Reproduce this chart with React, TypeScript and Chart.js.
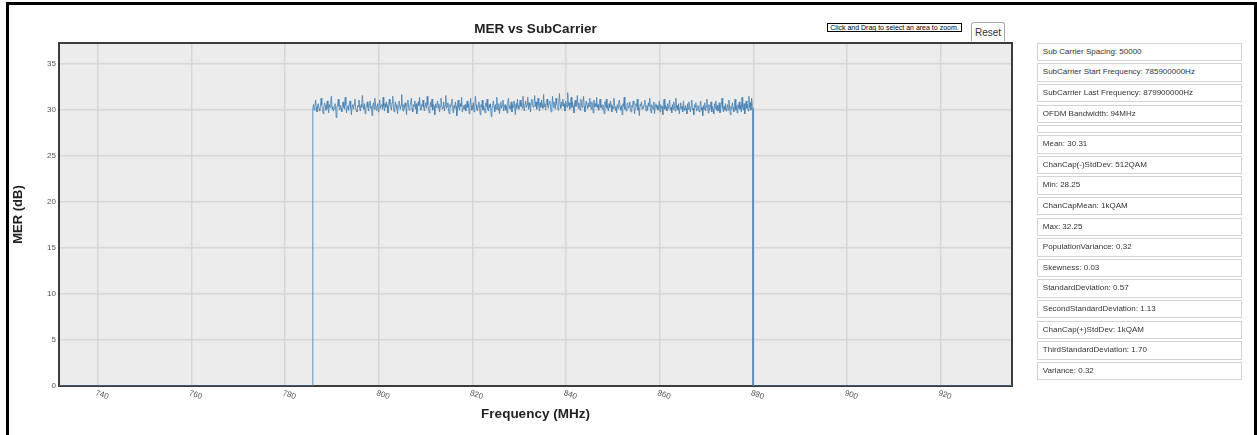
import React, { useEffect, useRef } from 'react';
import { Chart, registerables } from 'chart.js';

Chart.register(...registerables);

const FONT = '"Liberation Sans", Arial, Helvetica, sans-serif';

const chartTitle = 'MER vs SubCarrier';
const xAxisTitle = 'Frequency (MHz)';
const yAxisTitle = 'MER (dB)';

const xAxisMin = 731.7;
const xAxisMax = 935.2;
const xTickStep = 20;
const yAxisMin = 0;
const yAxisMax = 37.3;
const yTickStep = 5;

const startFreqMHz = 785.9;
const lastFreqMHz = 879.9;

// MER values (dB) read across the occupied band, left to right
const merValues = [
  30.2, 30.6, 30.0, 30.4, 31.1, 30.3, 29.8, 30.5, 30.7, 30.1, 29.9, 30.4, 31.3, 30.6, 30.2, 29.6, 30.3, 30.8, 30.5, 30.0,
  30.4, 31.0, 30.2, 29.7, 30.6, 30.3, 30.9, 31.5, 30.1, 30.4, 29.9, 30.2, 30.7, 30.5, 29.2, 30.3, 30.6, 31.2, 30.4, 30.0,
  30.5, 30.2, 29.8, 30.6, 30.9, 30.3, 30.1, 31.4, 30.6, 29.7, 30.3, 30.5, 30.0, 30.8, 31.0, 30.2, 29.5, 30.4, 30.6, 30.1,
  30.7, 31.2, 30.3, 30.0, 29.8, 30.5, 30.4, 31.1, 30.2, 29.9, 30.6, 30.3, 31.6, 30.4, 30.1, 30.7, 29.6, 30.2, 30.5, 30.9,
  30.3, 29.9, 30.6, 31.0, 30.2, 30.4, 29.4, 30.5, 30.8, 30.1, 31.3, 30.6, 30.0, 30.3, 30.7, 29.8, 30.4, 31.1, 30.2, 30.5,
  30.6, 30.1, 31.4, 30.4, 29.9, 30.7, 30.3, 30.9, 30.5, 29.7, 30.2, 31.2, 30.6, 30.4, 30.0, 30.8, 31.5, 30.3, 29.8, 30.5,
  30.9, 30.2, 30.6, 29.6, 30.4, 31.0, 30.7, 30.1, 30.5, 31.7, 30.3, 29.9, 30.6, 30.2, 30.8, 30.4, 29.5, 30.7, 31.1, 30.3,
  30.0, 30.5, 30.8, 31.3, 30.2, 29.8, 30.6, 30.4, 31.0, 30.1, 30.7, 29.6, 30.3, 30.9, 30.5, 31.4, 30.2, 30.0, 30.6, 30.4,
  31.1, 30.3, 29.9, 30.5, 30.8, 30.2, 31.5, 30.6, 30.1, 29.7, 30.4, 30.9, 30.3, 31.2, 30.0, 30.6, 30.4, 29.5, 30.7, 30.3,
  30.5, 31.0, 30.2, 30.7, 29.8, 30.4, 31.3, 30.6, 30.1, 30.3, 30.9, 29.9, 30.5, 31.6, 30.2, 30.4, 30.8, 30.0, 29.6, 30.6,
  30.3, 30.8, 31.2, 30.1, 29.7, 30.5, 30.2, 30.9, 30.4, 29.4, 30.6, 31.1, 30.3, 30.0, 30.7, 30.4, 31.4, 29.8, 30.2, 30.5,
  30.1, 30.6, 29.9, 30.4, 31.0, 30.3, 30.7, 29.6, 30.2, 31.3, 30.5, 30.0, 30.4, 30.8, 29.8, 30.3, 31.5, 30.6, 30.1, 29.9,
  30.4, 30.9, 30.2, 29.5, 30.6, 30.3, 31.1, 30.0, 30.5, 30.2, 29.7, 30.8, 30.4, 31.2, 30.1, 29.9, 30.6, 30.3, 30.7, 29.3,
  30.2, 30.5, 31.0, 30.4, 29.8, 30.6, 30.1, 31.4, 30.3, 30.0, 30.7, 29.6, 30.4, 30.9, 30.2, 30.5, 31.1, 29.9, 30.3, 30.6,
  30.0, 30.4, 29.7, 30.8, 31.3, 30.2, 30.5, 30.1, 30.9, 29.8, 30.6, 30.3, 31.0, 30.4, 29.5, 30.7, 30.2, 31.2, 30.5, 30.1,
  30.6, 31.1, 30.4, 30.8, 30.2, 31.5, 30.5, 29.9, 30.7, 31.0, 30.3, 30.6, 31.4, 30.1, 30.8, 30.4, 29.8, 30.9, 31.2, 30.5,
  30.3, 30.7, 31.6, 30.4, 30.9, 30.1, 30.6, 31.3, 30.5, 29.9, 30.8, 30.3, 31.1, 30.6, 30.2, 31.7, 30.4, 30.7, 30.0, 30.9,
  31.2, 30.5, 30.2, 30.8, 31.0, 30.4, 29.8, 30.6, 31.5, 30.3, 30.9, 30.5, 30.1, 31.3, 30.7, 30.4, 30.0, 30.8, 31.8, 30.6,
  30.2, 30.9, 30.5, 31.2, 30.4, 30.7, 29.9, 31.0, 30.6, 30.3, 31.9, 30.5, 30.8, 30.1, 30.6, 31.4, 30.3, 30.9, 30.4, 29.7,
  30.7, 31.1, 30.4, 30.6, 31.6, 30.2, 30.8, 30.5, 30.0, 31.2, 30.7, 30.3, 30.9, 31.5, 30.4, 29.8, 30.6, 31.0, 30.5, 30.2,
  30.8, 30.4, 31.3, 30.6, 30.1, 30.9, 30.5, 29.7, 31.1, 30.3, 30.7, 30.4, 31.4, 30.2, 30.6, 30.0, 30.8, 31.2, 30.3, 30.5,
  30.1, 30.6, 30.3, 29.6, 30.9, 30.4, 31.2, 30.2, 30.5, 29.9, 30.7, 30.3, 31.0, 30.6, 29.8, 30.4, 30.2, 31.3, 30.5, 30.0,
  30.4, 29.7, 30.6, 30.2, 30.9, 31.1, 30.3, 30.0, 30.5, 29.5, 30.7, 30.4, 31.4, 30.1, 30.3, 29.9, 30.6, 30.8, 30.2, 30.4,
  30.9, 30.1, 29.8, 30.5, 30.3, 31.0, 30.6, 29.6, 30.2, 30.7, 30.4, 31.2, 30.0, 30.3, 29.4, 30.6, 30.5, 30.9, 30.1, 30.4,
  30.2, 30.7, 31.1, 30.3, 29.9, 30.5, 30.0, 30.8, 30.4, 31.3, 30.2, 29.7, 30.6, 30.3, 30.1, 30.9, 29.6, 30.4, 30.7, 30.2,
  30.5, 30.0, 30.3, 31.0, 29.8, 30.6, 30.2, 30.4, 29.5, 30.8, 31.2, 30.1, 30.5, 30.3, 29.9, 30.7, 30.2, 30.6, 31.1, 30.0,
  30.3, 29.7, 30.6, 30.1, 30.9, 30.4, 29.9, 31.3, 30.2, 30.5, 30.0, 30.7, 29.6, 30.3, 30.8, 30.1, 30.4, 29.8, 31.0, 30.2,
  30.0, 30.5, 30.2, 29.6, 30.7, 30.1, 30.9, 30.3, 29.8, 30.4, 31.1, 30.0, 30.2, 29.5, 30.6, 30.3, 30.8, 29.9, 30.1, 30.5,
  30.2, 29.8, 30.6, 31.0, 30.0, 30.3, 29.4, 30.5, 30.1, 30.8, 29.9, 30.4, 31.2, 30.2, 29.7, 30.6, 30.0, 30.3, 30.9, 29.8,
  30.4, 30.1, 29.6, 30.7, 30.2, 31.0, 30.0, 30.5, 29.9, 30.3, 30.8, 29.7, 30.1, 30.6, 31.3, 30.2, 29.8, 30.4, 30.0, 30.7,
  29.9, 30.3, 30.6, 30.0, 31.1, 30.2, 29.5, 30.4, 30.1, 30.8, 30.3, 29.8, 30.5, 31.2, 30.0, 30.4, 29.7, 30.6, 30.2, 30.9,
  30.1, 30.5, 29.8, 31.4, 30.3, 30.0, 30.7, 29.6, 30.4, 31.0, 30.2, 30.6, 29.9, 31.5, 30.3, 30.8, 30.0, 31.3, 30.4, 30.2,
];

const statLines = [
  'Sub Carrier Spacing: 50000',
  'SubCarrier Start Frequency: 785900000Hz',
  'SubCarrier Last Frequency: 879900000Hz',
  'OFDM Bandwidth: 94MHz',
  '',
  'Mean: 30.31',
  'ChanCap(-)StdDev: 512QAM',
  'Min: 28.25',
  'ChanCapMean: 1kQAM',
  'Max: 32.25',
  'PopulationVariance: 0.32',
  'Skewness: 0.03',
  'StandardDeviation: 0.57',
  'SecondStandardDeviation: 1.13',
  'ChanCap(+)StdDev: 1kQAM',
  'ThirdStandardDeviation: 1.70',
  'Variance: 0.32',
];

const zoomHint = 'Click and Drag to select an area to zoom.';
const resetLabel = 'Reset';

function buildPoints() {
  const n = merValues.length;
  const pts: { x: number; y: number }[] = [];
  pts.push({ x: xAxisMin, y: 0 });
  pts.push({ x: startFreqMHz, y: 0 });
  merValues.forEach((v, i) => {
    pts.push({ x: startFreqMHz + ((lastFreqMHz - startFreqMHz) * i) / (n - 1), y: v });
  });
  pts.push({ x: lastFreqMHz, y: 0 });
  pts.push({ x: xAxisMax, y: 0 });
  return pts;
}

const areaPlugin = {
  id: 'areaPlugin',
  beforeDraw(chart: any) {
    const { ctx, chartArea } = chart;
    ctx.save();
    ctx.fillStyle = '#ececec';
    ctx.fillRect(chartArea.left, chartArea.top, chartArea.right - chartArea.left, chartArea.bottom - chartArea.top);
    ctx.restore();
  },
  beforeDatasetsDraw(chart: any) {
    const { ctx, chartArea } = chart;
    ctx.save();
    ctx.strokeStyle = '#3c3c3c';
    ctx.lineWidth = 2;
    ctx.strokeRect(chartArea.left, chartArea.top, chartArea.right - chartArea.left, chartArea.bottom - chartArea.top);
    ctx.restore();
  },
  afterDraw(chart: any) {
    const sc = chart.scales.x;
    const ctx = chart.ctx;
    ctx.save();
    ctx.font = `8px ${FONT}`;
    ctx.fillStyle = '#555';
    ctx.textAlign = 'left';
    ctx.textBaseline = 'top';
    sc.ticks.forEach((t: any) => {
      const r = Math.abs(t.value % xTickStep);
      if (r > 1e-6 && Math.abs(r - xTickStep) > 1e-6) return;
      const px = sc.getPixelForValue(t.value);
      ctx.save();
      ctx.translate(px - 1, chart.chartArea.bottom + 3);
      ctx.rotate((18 * Math.PI) / 180);
      ctx.fillText(String(t.value), 0, 0);
      ctx.restore();
    });
    ctx.restore();
  },
};

function MerChart() {
  const ref = useRef<HTMLCanvasElement | null>(null);
  useEffect(() => {
    if (!ref.current) return;
    const chart = new Chart(ref.current, {
      type: 'line',
      data: {
        datasets: [
          {
            data: buildPoints(),
            borderColor: 'rgba(70,130,180,0.85)',
            borderWidth: 1,
            pointRadius: 0,
            tension: 0,
            fill: false,
          },
        ],
      },
      options: {
        responsive: false,
        animation: false,
        devicePixelRatio: 1,
        layout: { padding: { left: 10, right: 18, top: 0, bottom: 0 } },
        plugins: {
          legend: { display: false },
          tooltip: { enabled: false },
          title: {
            display: true,
            text: chartTitle,
            fullSize: false,
            color: '#222',
            font: { family: FONT, size: 13.5, weight: 'bold' },
            padding: { top: 21, bottom: 5.8 },
          },
        },
        scales: {
          x: {
            type: 'linear',
            min: xAxisMin,
            max: xAxisMax,
            ticks: { display: false, stepSize: xTickStep, includeBounds: false },
            grid: { color: '#d6d6d6', lineWidth: 1.5, drawTicks: false },
            border: { display: false },
            title: {
              display: true,
              text: xAxisTitle,
              color: '#222',
              font: { family: FONT, size: 13.5, weight: 'bold' },
              padding: { top: 0, bottom: 13 },
            },
            afterFit: (scale: any) => {
              scale.height = 49;
            },
          },
          y: {
            type: 'linear',
            min: yAxisMin,
            max: yAxisMax,
            ticks: {
              stepSize: yTickStep,
              includeBounds: false,
              padding: 3,
              color: '#555',
              font: { family: FONT, size: 8 },
            },
            grid: { color: '#d6d6d6', lineWidth: 1.5, drawTicks: false },
            border: { display: false },
            title: {
              display: true,
              text: yAxisTitle,
              color: '#222',
              font: { family: FONT, size: 13, weight: 'bold' },
              padding: { top: 1, bottom: 0 },
            },
            afterFit: (scale: any) => {
              scale.width = 49;
            },
          },
        },
      } as any,
      plugins: [areaPlugin],
    });
    return () => chart.destroy();
  }, []);
  return (
    <canvas
      ref={ref}
      width={1030}
      height={435}
      style={{ position: 'absolute', left: 0, top: 0, width: 1030, height: 435 }}
    />
  );
}

export default function App() {
  let top = 42.7;
  const boxes = statLines.map((s, i) => {
    const h = s === '' ? 8 : 18.6;
    const el = (
      <div
        key={i}
        style={{
          position: 'absolute',
          left: 1037.3,
          top,
          width: 205,
          height: h,
          boxSizing: 'border-box',
          border: '1px solid #d2d2d2',
          background: '#fff',
          fontFamily: FONT,
          fontSize: 8,
          color: '#333',
          lineHeight: `${h - 2}px`,
          paddingLeft: 4.5,
          whiteSpace: 'nowrap',
          overflow: 'hidden',
        }}
      >
        {s}
      </div>
    );
    top += h + 2;
    return el;
  });
  return (
    <div
      style={{
        position: 'absolute',
        left: 0,
        top: 0,
        width: 1257,
        height: 435,
        overflow: 'hidden',
        background: '#fff',
      }}
    >
      <MerChart />
      <div
        style={{
          position: 'absolute',
          left: 827,
          top: 23,
          width: 135,
          height: 9,
          boxSizing: 'border-box',
          border: '1px solid #000',
          background: '#fff',
          fontFamily: FONT,
          fontSize: 7,
          lineHeight: '7px',
          color: '#000',
          textAlign: 'center',
          whiteSpace: 'nowrap',
        }}
      >
        {zoomHint}
      </div>
      <div
        style={{
          position: 'absolute',
          left: 971,
          top: 22,
          width: 34,
          height: 19,
          boxSizing: 'border-box',
          border: '1px solid #aaa',
          borderBottom: 'none',
          borderRadius: '3px 3px 0 0',
          background: '#fff',
          fontFamily: FONT,
          fontSize: 10,
          lineHeight: '20px',
          color: '#333',
          textAlign: 'center',
        }}
      >
        {resetLabel}
      </div>
      {boxes}
      <div
        style={{
          position: 'absolute',
          left: 6,
          top: 2,
          width: 1251,
          height: 480,
          boxSizing: 'border-box',
          border: '3px solid #000',
          pointerEvents: 'none',
        }}
      />
    </div>
  );
}
